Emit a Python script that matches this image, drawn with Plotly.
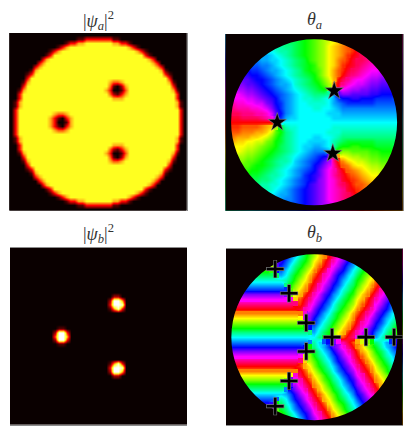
import plotly.graph_objects as go

# --- density of component a, levels 0..9, rows top to bottom (45 x 45 cells)
density_a = [
    "0"*45,
    "0"*17 + "11" + "3"*7 + "11" + "0"*17,
    "0"*14 + "13355" + "6"*7 + "55331" + "0"*14,
    "0"*12 + "135" + "6"*15 + "531" + "0"*12,
    "0"*10 + "135" + "6"*19 + "531" + "0"*10,
    "0"*9 + "13" + "6"*23 + "31" + "0"*9,
    "0"*8 + "35" + "6"*25 + "53" + "0"*8,
    "0"*7 + "35" + "6"*27 + "53" + "0"*7,
    "0"*6 + "35" + "6"*29 + "53" + "0"*6,
    "0"*5 + "15" + "6"*31 + "51" + "0"*5,
    "0"*4 + "13" + "6"*33 + "31" + "0"*4,
    "0"*4 + "3" + "6"*35 + "3" + "0"*4,
    "00015" + "6"*20 + "5445" + "6"*11 + "51000",
    "0003" + "6"*21 + "41025" + "6"*11 + "3000",
    "0015" + "6"*20 + "530014" + "6"*11 + "5100",
    "003" + "6"*22 + "42135" + "6"*12 + "300",
    "003" + "6"*23 + "555" + "6"*13 + "300",
    "015" + "6"*39 + "510",
    "015" + "6"*39 + "510",
    "03" + "6"*41 + "30",
    "03" + "6"*9 + "5445" + "6"*28 + "30",
    "03" + "6"*8 + "531035" + "6"*27 + "30",
    "03" + "6"*8 + "530015" + "6"*27 + "30",
    "03" + "6"*8 + "531035" + "6"*27 + "30",
    "03" + "6"*9 + "5445" + "6"*28 + "30",
    "03" + "6"*41 + "30",
    "015" + "6"*39 + "510",
    "015" + "6"*39 + "510",
    "003" + "6"*23 + "555" + "6"*13 + "300",
    "003" + "6"*22 + "42135" + "6"*12 + "300",
    "0015" + "6"*20 + "530014" + "6"*11 + "5100",
    "0003" + "6"*21 + "41025" + "6"*11 + "3000",
    "00015" + "6"*20 + "5445" + "6"*11 + "51000",
    "0"*4 + "3" + "6"*35 + "3" + "0"*4,
    "0"*4 + "13" + "6"*33 + "31" + "0"*4,
    "0"*5 + "15" + "6"*31 + "51" + "0"*5,
    "0"*6 + "35" + "6"*29 + "53" + "0"*6,
    "0"*7 + "35" + "6"*27 + "53" + "0"*7,
    "0"*8 + "35" + "6"*25 + "53" + "0"*8,
    "0"*9 + "13" + "6"*23 + "31" + "0"*9,
    "0"*10 + "135" + "6"*19 + "531" + "0"*10,
    "0"*12 + "135" + "6"*15 + "531" + "0"*12,
    "0"*14 + "13355" + "6"*7 + "55331" + "0"*14,
    "0"*17 + "11" + "3"*7 + "11" + "0"*17,
    "0"*45,
]

# --- density of component b, same grid
_b0 = "0"*45
density_b = [_b0]*12 + [
    "0"*26 + "22" + "0"*17,
    "0"*25 + "2995" + "0"*16,
    "0"*25 + "3998" + "0"*16,
    "0"*25 + "1583" + "0"*16,
] + [_b0]*4 + [
    "0"*12 + "11" + "0"*31,
    "0"*11 + "2993" + "0"*30,
    "0"*11 + "4995" + "0"*30,
    "0"*11 + "2993" + "0"*30,
    "0"*12 + "11" + "0"*31,
] + [_b0]*4 + [
    "0"*25 + "1583" + "0"*16,
    "0"*25 + "3998" + "0"*16,
    "0"*25 + "2995" + "0"*16,
    "0"*26 + "22" + "0"*17,
] + [_b0]*12

# --- phase of a, base-36 hue levels (0 red, 6 yellow, c green, i cyan, o blue, u magenta)
phase_a = [
    "kkjjiihhggfffeedcba9876543210zzyyxxww",
    "kkjjiihhggfffeedcba9876543210zzyyxxww",
    "llkkjjiihhggffedcba986543210zzyyxxwwv",
    "mmllkkjjiihggfedcba98654321zyyxxwwvvu",
    "nnmmllkkkjihgfedcba98654310zyxwvvuutt",
    "onnmmllkkjjihgfedba9865321zyyxwvvuutt",
    "oonnmmmllkjihgfedcb9865310zyxwvvuttss",
    "ppooonnmlkkjihgfdcba86421zyxwvuuttsss",
    "qqpppoonmlkjihgfedca86420yxwvuttssrrr",
    "rrqqqpoonmlkjihgfecb9740yxvuutssrrqqq",
    "ssrrqqponmlkkjhgfedca83zxvuttsrrqqqpp",
    "tsssrrqponmlkjihgfedca3wutssrrqqpppoo",
    "uuutssrqponmlkjihgfffglqrrqqqqppoooon",
    "vuuuttsrqpomlkjihhgghiknooppooonnnnmm",
    "wwvvuuttrqonlkjiihhhhiklmnnnnnnmmmmml",
    "xxwwwvvutrpnlkjiiihhiijk" + "l"*13,
    "yyyxxxwwvtqolkjiiiiiijjj" + "k"*13,
    "zzzyyyyxwvsnkjjiiiiiii" + "j"*15,
    "00000000000" + "i"*26,
    "11122223458dghhiiiiiii" + "h"*15,
    "2223334457acfghiiiiiihhh" + "g"*13,
    "3344455679bdfghiiijjiihg" + "f"*13,
    "445566779acdfghiijjjjigfeddddddeeeeef",
    "56667789abcefghijjkkjigdccbbcccddddee",
    "6667889abcdefghijklllkfa99aaaabbccccd",
    "788899abcdefghijklmnoqx4678899aabbbcc",
    "8899aabcdefgghjklmnoqsx135677899aaabb",
    "99aaabccdefghijklmoprtw02356678899aaa",
    "aabbbccdefghijklmnoqsuwy0234567788999",
    "bbcccddefgghijklnopqsuwyz123456677888",
    "ccddeeeffghijklmnoprsuvxz012345567788",
    "cddeeffgghhijklmnpqrsuvxyz12234556677",
    "ddeeffggghijklmnopqrsuvwxz01234556677",
    "eeffgghhiijkklmnopqrsuvwxyz1223344556",
    "ffgghhiijjkkllmnopqrsuvwxyz0112233445",
    "gghhiijjkklllmmnopqrstuvwxyz011223344",
    "gghhiijjkklllmmnopqrstuvwxyz011223344",
]

# --- phase of b
phase_b = [
    "2"*9 + "wtqoljgda8530xvspnkhfca742zw",
    "2"*9 + "wtqoljgda8530xvspnkhfca742zw",
    "5"*9 + "urpmkhec9641ywtroljgdb8530yv",
    "8"*10 + "qnlifda8520xuspmkhfc9741zwt",
    "b"*10 + "omjheb9631yvtqoligda8520xus",
    "e"*11 + "kifca742zwuromjheb9631ywtq",
    "h"*12 + "geb8630yvsqnkifca752zxurp",
    "k"*12 + "fc9741zwtromjgeb8631yvtqn",
    "n"*13 + "a8530xvspnkhfc9742zwurom",
    "r"*13 + "9641ywtqoljgdb8530xvsqnk",
    "u"*14 + "52zxuspmkhec9641ywtrolj",
    "x"*15 + "1yvtqnlifda8520xuspmkh",
    "0"*15 + "zwuromjheb9631ywtqolig",
    "3"*16 + "vsqnkifca742zxurpmjhe",
    "6"*16 + "troljgeb8630yvsqnkifd",
    "9"*17 + "pnkhfc9742zwuromjgeb",
    "c"*17 + "oligda8530xvspnkhfca",
    "f"*18 + "khec9641ywtroljgdb8",
    "i"*18 + "ifda752zxuspmkhec96",
    "l"*18 + "gjmoruwz2479cfhknps",
    "o"*17 + "cfiknqsvx0358bdgjloq",
    "r"*17 + "bdgjlortwy1469cehkmp",
    "u"*16 + "79cfhkmpsux0258adgiln",
    "x"*16 + "58adgiloqtwy1369behjm",
    "0"*15 + "1469cehjmpruxz247acfik",
    "3"*15 + "z257adfilnqsvy0368begj",
    "6"*14 + "vy1368begjmoruwz2479cfh",
    "9"*13 + "ruwz247acfhknpsvx0358adg",
    "d"*13 + "qsvx0358bdgjlortwy1469ce",
    "g"*12 + "lortwz1479cehkmpsuxz257ad",
    "j"*12 + "kmpsux0258adgiloqtvy1369b",
    "m"*11 + "giloqtwy1469cehjmpruxz247a",
    "p"*10 + "cehjmpruxz257acfiknqsvy0368",
    "s"*10 + "adfilnqsvy0368begjlortwz147",
    "v"*9 + "69begjmoruwz2479cfhknpsvx025",
    "y"*9 + "47acfhknqsvx0358bdgjloqtwy14",
    "y"*9 + "47acfhknqsvx0358bdgjloqtwy14",
]

# --- markers, in phase-grid cells from the panel centre
star_x = [-7.7, 4.2, 3.9]
star_y = [0.0, 6.6, -6.5]
plus_x = [-8.2, -5.3, -1.7, 3.7, 10.8, 16.7, -1.7, -5.3, -8.2]
plus_y = [14.3, 9.2, 3.0, 0.0, 0.0, 0.0, -3.0, -9.2, -14.5]

titles = ["|<i>ψ<sub>a</sub></i>|<sup>2</sup>", "<i>θ<sub>a</sub></i>",
          "|<i>ψ<sub>b</sub></i>|<sup>2</sup>", "<i>θ<sub>b</sub></i>"]

# the page keeps an 8 px body margin, so the canvas is the window less 16 px
PAGE = 8
W, H = 415 - 2*PAGE, 434 - 2*PAGE
panels = [(9.3, 186.7, 33.0, 210.5), (225.5, 402.7, 34.0, 210.7),
          (10.0, 187.0, 247.5, 424.5), (226.0, 402.7, 249.0, 425.3)]
title_y = [20, 20, 233, 233]
EDGE = "#8c8c8c"

hot = [[0, "#0a0000"], [3/9, "#ff0000"], [6/9, "#ffff20"], [1, "#ffffff"]]
HUES = ["#ff0000", "#ffff00", "#00ff00", "#00ffff", "#0000ff", "#ff00ff"]
hsv = [[k/6, HUES[k % 6]] for k in range(7)]
hsv_half = [[k/6, HUES[(k + 3) % 6]] for k in range(7)]
JUMP = 6  # levels; a larger step between neighbours is a wrap or a cut, not a gradient


def to_z(rows, n):
    for r in rows:
        assert len(r) == n, (len(r), r)
    assert len(rows) == n, len(rows)
    return [[int(c, 36) for c in r] for r in rows]


def without_jumps(z):
    """Blank the cells next to a jump, so that smoothing never runs across one."""
    n = len(z)
    out = [row[:] for row in z]
    for j in range(n):
        for i in range(n):
            for dj, di in ((0, 1), (0, -1), (1, 0), (-1, 0)):
                jj, ii = j + dj, i + di
                if 0 <= jj < n and 0 <= ii < n and abs(z[j][i] - z[jj][ii]) > JUMP:
                    out[j][i] = None
    return out


def phase_layers(z, x, y, xa, ya):
    """Flat cells at the bottom; two smoothed copies, wrapped half a turn apart, fill above them."""
    shifted = [[(v + 18) % 36 for v in row] for row in z]
    common = dict(x=x, y=y, zmin=0, zmax=36, showscale=False, xaxis=xa, yaxis=ya)
    return [go.Heatmap(z=z, colorscale=hsv, **common),
            go.Heatmap(z=without_jumps(shifted), colorscale=hsv_half, zsmooth="best", **common),
            go.Heatmap(z=without_jumps(z), colorscale=hsv, zsmooth="best", **common)]


fig = go.Figure()
N_D, N_P = 45, 37
hd, hp = N_D // 2, N_P // 2
xd = list(range(-hd, hd + 1)); yd = xd[::-1]
xp = list(range(-hp, hp + 1)); yp = xp[::-1]

fig.add_trace(go.Heatmap(z=to_z(density_a, N_D), x=xd, y=yd, zmin=0, zmax=9, colorscale=hot,
                         showscale=False, zsmooth="best", xaxis="x", yaxis="y"))
fig.add_traces(phase_layers(to_z(phase_a, N_P), xp, yp, "x2", "y2"))
fig.add_trace(go.Heatmap(z=to_z(density_b, N_D), x=xd, y=yd, zmin=0, zmax=9, colorscale=hot,
                         showscale=False, zsmooth="best", xaxis="x3", yaxis="y3"))
fig.add_traces(phase_layers(to_z(phase_b, N_P), xp, yp, "x4", "y4"))

# black surround of the two phase discs
for xa, ya in (("x2", "y2"), ("x4", "y4")):
    fig.add_trace(go.Scatter(x=[0], y=[0], mode="markers", xaxis=xa, yaxis=ya, showlegend=False,
                             marker=dict(symbol="circle-open", size=210, color="#0a0000",
                                         line=dict(width=44, color="#0a0000"))))

fig.add_trace(go.Scatter(x=star_x, y=star_y, mode="markers", xaxis="x2", yaxis="y2", showlegend=False,
                         marker=dict(symbol="star", size=14, color="black",
                                     line=dict(width=0.6, color="#888888"))))
for size, width, colour in ((13, 3.8, "#777777"), (12, 2.6, "black")):
    fig.add_trace(go.Scatter(x=plus_x, y=plus_y, mode="markers", xaxis="x4", yaxis="y4", showlegend=False,
                             marker=dict(symbol="cross-thin", size=size, color=colour,
                                         line=dict(width=width, color=colour))))

layout = dict(width=W, height=H, margin=dict(l=0, r=0, t=0, b=0), paper_bgcolor="white",
              plot_bgcolor="#0a0000", showlegend=False)
bare = dict(showticklabels=False, ticks="", showgrid=False, zeroline=False)
for i, (x0, x1, y0, y1) in enumerate(panels):
    s = "" if i == 0 else str(i + 1)
    half = (hd if i in (0, 2) else hp) + 0.5
    upper = i < 2
    layout["xaxis" + s] = dict(domain=[(x0 - PAGE) / W, (x1 - PAGE) / W], range=[-half, half],
                               anchor="y" + s, showline=not upper, mirror=not upper,
                               linecolor=EDGE, linewidth=1, **bare)
    layout["yaxis" + s] = dict(domain=[1 - (y1 - PAGE) / H, 1 - (y0 - PAGE) / H], range=[-half, half],
                               anchor="x" + s, side="right", showline=upper,
                               linecolor=EDGE, linewidth=1, **bare)
fig.update_layout(**layout)

for (x0, x1, _, _), t, ty in zip(panels, titles, title_y):
    fig.add_annotation(x=((x0 + x1) / 2 - PAGE) / W, y=1 - (ty - PAGE) / H, xref="paper", yref="paper",
                       text=t, showarrow=False, xanchor="center", yanchor="middle",
                       font=dict(family="Liberation Serif", size=18, color="#333333"))

fig.write_html("out.html", config=dict(displayModeBar=False))
